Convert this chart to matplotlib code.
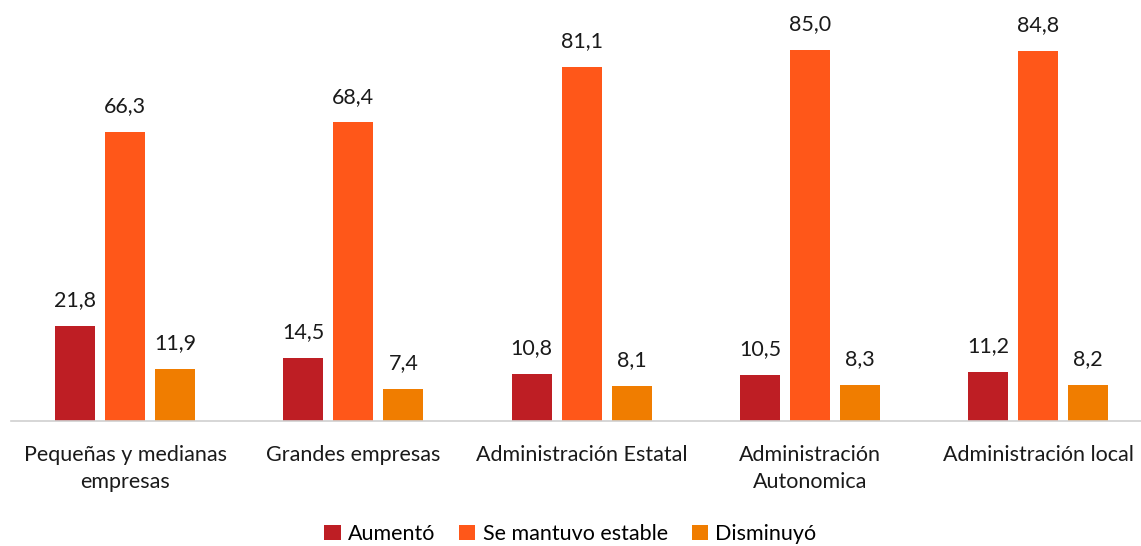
import numpy as np
import matplotlib.pyplot as plt

plt.rcParams['font.family'] = ['Lato', 'DejaVu Sans']

categories = ['Pequeñas y medianas\nempresas', 'Grandes empresas', 'Administración Estatal',
              'Administración\nAutonomica', 'Administración local']
series = ['Aumentó', 'Se mantuvo estable', 'Disminuyó']
aumento = [21.8, 14.5, 10.8, 10.5, 11.2]
estable = [66.3, 68.4, 81.1, 85.0, 84.8]
disminuyo = [11.9, 7.4, 8.1, 8.3, 8.2]
colors = ['#BE1E24', '#FF5719', '#F07D00']

fig = plt.figure(figsize=(11.41, 5.46), dpi=100)
ax = fig.add_axes([11 / 1141, 125 / 546, 1130 / 1141, 419 / 546])

x = np.arange(len(categories))
w = 0.175
off = 0.219
for i, (vals, name, c) in enumerate(zip([aumento, estable, disminuyo], series, colors)):
    pos = x + (i - 1) * off
    bars = ax.bar(pos, vals, w, color=c, label=name)
    for p, v in zip(pos, vals):
        ax.text(p, v + 3.6, f'{v:.1f}'.replace('.', ','), ha='center', va='bottom',
                fontsize=15.5, color='#1a1a1a')

ax.set_xlim(-0.5, -0.5 + 1130 / 228.25)
ax.set_ylim(0, 96)
ax.set_yticks([])
ax.set_xticks(x)
ax.set_xticklabels(categories, fontsize=15.5, color='#1a1a1a', linespacing=1.45)
ax.tick_params(axis='x', length=0, pad=17)
for s in ['top', 'right', 'left']:
    ax.spines[s].set_visible(False)
ax.spines['bottom'].set_color('#d0d0d0')
ax.spines['bottom'].set_linewidth(1.2)

fig.legend(loc='lower center', bbox_to_anchor=(0.5, -0.032), ncol=3, frameon=False,
           fontsize=15.5, handlelength=0.75, handleheight=0.75, handletextpad=0.35,
           columnspacing=1.1)

fig.savefig('out.png', dpi=100)
